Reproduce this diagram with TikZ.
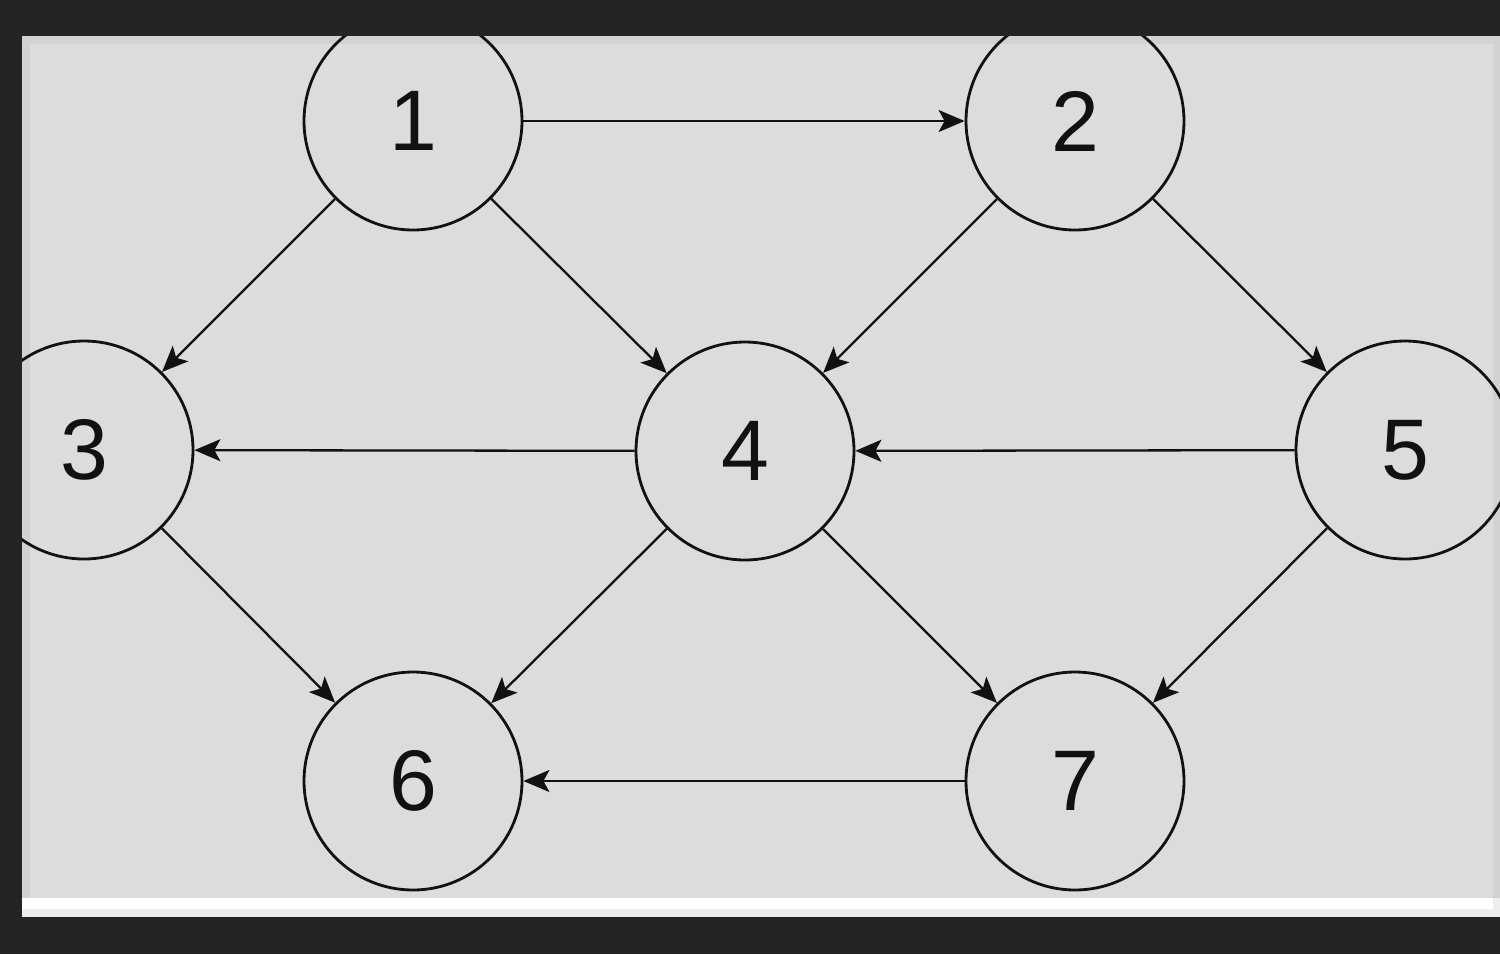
\documentclass[tikz,border=0pt]{standalone}
\usepackage{fontspec}
\setmainfont{Liberation Sans}
\usetikzlibrary{arrows.meta}
\definecolor{bgdark}{HTML}{242424}
\definecolor{panel}{HTML}{DCDCDC}
\definecolor{paneledge}{HTML}{D2D2D2}
\definecolor{paneloff}{HTML}{EEEEEE}
\definecolor{ink}{HTML}{111111}
\tikzset{
  vertex/.style={circle, draw=ink, line width=2.8pt, minimum size=218pt, inner sep=0pt,
    font=\fontsize{86}{86}\selectfont, text=ink},
  edge/.style={draw=ink, line width=2.3pt, -{Stealth[length=26pt, width=22pt, inset=6pt]}}
}
\begin{document}
\begin{tikzpicture}[x=1pt, y=-1pt]
\useasboundingbox (0,0) rectangle (1500,954);
\fill[bgdark] (0,0) rectangle (1500,954);
\fill[paneloff] (22,36) rectangle (1500,917);
\fill[white] (22,36) rectangle (1493,909);
\fill[paneledge] (22,36) rectangle (1500,898);
\fill[panel] (30,44) rectangle (1493,898);
\begin{scope}
\clip (22,36) rectangle (1500,898);
\node[vertex] (n1) at (413,121) {1};
\node[vertex] (n2) at (1075,121) {2};
\node[vertex] (n3) at (84,450) {3};
\node[vertex] (n4) at (745,451) {4};
\node[vertex] (n5) at (1405,450) {5};
\node[vertex] (n6) at (413,781) {6};
\node[vertex] (n7) at (1075,781) {7};
\draw[edge] (n1) -- (n2);
\draw[edge] (n1) -- (n3);
\draw[edge] (n1) -- (n4);
\draw[edge] (n2) -- (n4);
\draw[edge] (n2) -- (n5);
\draw[edge] (n4) -- (n3);
\draw[edge] (n5) -- (n4);
\draw[edge] (n3) -- (n6);
\draw[edge] (n4) -- (n6);
\draw[edge] (n4) -- (n7);
\draw[edge] (n5) -- (n7);
\draw[edge] (n7) -- (n6);
\end{scope}
\end{tikzpicture}
\end{document}
